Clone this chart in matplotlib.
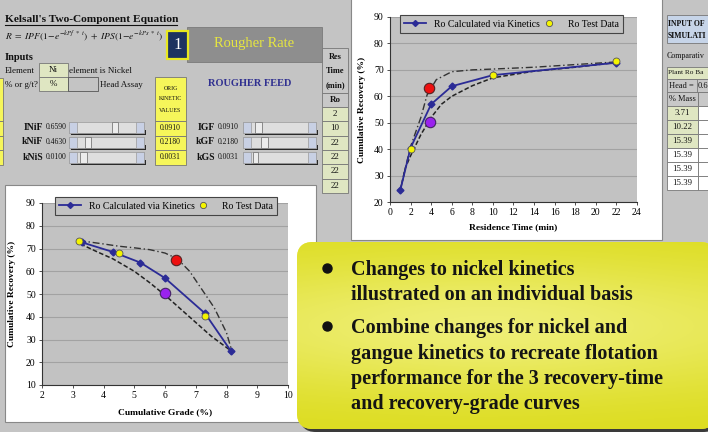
import numpy as np
import matplotlib
matplotlib.use("Agg")
import matplotlib.pyplot as plt
from matplotlib.patches import Rectangle, FancyBboxPatch
from matplotlib.lines import Line2D

plt.rcParams['mathtext.fontset'] = 'stix'
SERIF = ['Liberation Serif', 'DejaVu Serif']

# ---------------- data ----------------
# Recovery vs residence time
time_calc = [1, 2, 4, 6, 10, 22]
rec_calc = [24.5, 40.5, 57.0, 63.8, 68.0, 72.7]
time_test = [2, 10, 22]
rec_test = [40.0, 68.0, 73.2]
time_upper = [1, 1.5, 2, 3, 3.6, 4.5, 6, 8, 10, 14, 18, 22]
rec_upper = [24.5, 33, 41, 52, 60.5, 66.3, 69.3, 70.0, 70.3, 71.0, 72.0, 73.0]
time_lower = [1, 1.5, 2, 3, 4, 5, 6, 8, 10, 14, 18, 22]
rec_lower = [24.5, 33, 37.5, 45.5, 52, 57, 60, 64, 67, 69.5, 71, 72.8]
time_red, rec_red = [3.8], [63.0]
time_purple, rec_purple = [3.9], [50.3]

# Recovery vs grade
grade_calc = [3.3, 4.3, 5.2, 6.0, 7.3, 8.15]
grec_calc = [72.7, 68.5, 63.8, 57.0, 41.5, 24.8]
grade_test = [3.2, 4.5, 7.3]
grec_test = [73.3, 68.2, 40.3]
grade_upper = [3.2, 4.0, 4.5, 5.0, 5.5, 6.0, 6.4, 6.8, 7.2, 7.6, 8.0, 8.15]
grec_upper = [73.5, 72.0, 71.0, 70.3, 69.5, 68.0, 65.5, 60.0, 52.0, 44.0, 33.0, 26.0]
grade_lower = [3.25, 3.8, 4.3, 5.0, 5.5, 6.0, 6.5, 7.0, 7.5, 8.1]
grec_lower = [72.0, 68.5, 65.5, 60.0, 55.0, 49.5, 43.5, 37.5, 31.5, 25.5]
grade_red, grec_red = [6.35], [65.0]
grade_purple, grec_purple = [6.0], [50.5]

legend_labels = ["Ro Calculated via Kinetics", "Ro Test Data"]

# spreadsheet values
row_labels_left = ["INiF", "kNiF", "kNiS"]
row_values_left = ["0.6590", "0.4630", "0.0100"]
orig_values = ["0.0910", "0.2180", "0.0031"]
row_labels_right = ["IGF", "kGF", "kGS"]
row_values_right = ["0.0910", "0.2180", "0.0031"]
res_times = ["2", "10", "22", "22", "22", "22"]
mass_values = ["3.71", "10.22", "15.39", "15.39", "15.39", "15.39"]
bullets = [["Changes to nickel kinetics", "illustrated on an individual basis"],
           ["Combine changes for nickel and", "gangue kinetics to recreate flotation",
            "performance for the 3 recovery-time", "and recovery-grade curves"]]

# ---------------- figure ----------------
W, H = 708, 432
fig = plt.figure(figsize=(W / 100, H / 100), dpi=100)
fig.patch.set_facecolor('#c4c4c4')
bg = fig.add_axes([0, 0, 1, 1])
bg.set_xlim(0, W)
bg.set_ylim(H, 0)
bg.axis('off')
bg.set_zorder(0)

def rect(x0, y0, x1, y1, fc, ec='none', lw=0.6, z=1):
    bg.add_patch(Rectangle((x0, y0), x1 - x0, y1 - y0, facecolor=fc, edgecolor=ec, lw=lw, zorder=z))

def txt(x, y, s, size=6.5, ha='left', va='center', color='#111111', weight='normal', style='normal', z=3):
    bg.text(x, y, s, fontsize=size, ha=ha, va=va, color=color, fontweight=weight,
            fontstyle=style, family=SERIF, zorder=z)

# title and equation
txt(5, 19, "Kelsall's Two-Component Equation", size=8.2, weight='bold')
bg.plot([5, 177], [25, 25], color='#111111', lw=0.8, zorder=3)
txt(5, 36, r"$R\ =\ IPF(1\!-\!e^{-kPf\ *\ t})\ +\ IPS(1\!-\!e^{-kPs\ *\ t})$", size=6.8)

# "1" box and Rougher Rate header
rect(187, 27, 322, 62, '#8e8e8e', ec='#7a7a7a')
txt(254, 44, "Rougher Rate", size=10.5, ha='center', color='#e6e640')
rect(167, 31, 188, 59, '#1d3360', ec='#e8e820', lw=1.6, z=2)
txt(177.5, 45, "1", size=12, ha='center', color='white', z=4)

# Inputs
txt(5, 57, "Inputs", size=7.5, weight='bold')
txt(5, 71, "Element", size=6.5)
rect(39, 63, 68, 77, '#dfe6c2', ec='#777777')
txt(53.5, 70.5, "Ni", size=6.5, ha='center')
txt(69, 71, "element is Nickel", size=6.5)
txt(5, 85, "% or g/t?", size=6.5)
rect(39, 77, 68, 91, '#dfe6c2', ec='#777777')
txt(53.5, 84.5, "%", size=6.5, ha='center')
rect(68, 77, 98, 91, '#c4c4c4', ec='#555555')
txt(100, 85, "Head Assay", size=6.5)

# ORIG kinetic column
rect(155, 77, 186, 121, '#f6f65a', ec='#777777')
for i, s in enumerate(["ORIG", "KINETIC", "VALUES"]):
    txt(170.5, 88 + i * 11, s, size=4.2, ha='center')
for i, v in enumerate(orig_values):
    rect(155, 121 + i * 14.5, 186, 135.5 + i * 14.5, '#f6f65a', ec='#777777')
    txt(170.5, 128 + i * 14.5, v, size=5.5, ha='center')
txt(250, 84, "ROUGHER FEED", size=7.5, ha='center', weight='bold', color='#303090')

# left edge yellow cells
rect(-5, 78, 3, 121, '#f6f65a', ec='#777777')
for i in range(3):
    rect(-5, 121 + i * 14.5, 3, 135.5 + i * 14.5, '#f6f65a', ec='#777777')

def slider(x0, x1, yc, t0, t1):
    rect(x0 + 2, yc + 3, x1 + 2, yc + 8, '#2a2a2a', z=1)
    rect(x0, yc - 5.5, x1, yc + 5.5, '#dedede', ec='#9a9a9a', lw=0.5, z=2)
    rect(x0, yc - 5.5, x0 + 8, yc + 5.5, '#c8d0e4', ec='#9a9a9a', lw=0.5, z=2)
    rect(x1 - 8, yc - 5.5, x1, yc + 5.5, '#c8d0e4', ec='#9a9a9a', lw=0.5, z=2)
    rect(t0, yc - 5.5, t1, yc + 5.5, '#ececec', ec='#7a7a7a', lw=0.6, z=2)

ys = [127, 142, 157]
thumbs_left = [(112, 118), (85, 91), (80, 87)]
thumbs_right = [(255, 262), (261, 268), (253, 258)]
for i in range(3):
    txt(43, ys[i], row_labels_left[i], size=7, ha='right', weight='bold')
    txt(46, ys[i], row_values_left[i], size=5.5)
    slider(69, 144, ys[i], *thumbs_left[i])
    txt(215, ys[i], row_labels_right[i], size=7, ha='right', weight='bold')
    txt(218, ys[i], row_values_right[i], size=5.5)
    slider(243, 316, ys[i], *thumbs_right[i])

# Res time column
rect(322, 48, 348, 93, '#c8c8c8', ec='#777777')
for i, s in enumerate(["Res", "Time", "(min)"]):
    txt(335, 57 + i * 14, s, size=6, ha='center', weight='bold')
rect(322, 93, 348, 107, '#c8c8c8', ec='#777777')
txt(335, 100, "Ro", size=6.5, ha='center', weight='bold')
for i, v in enumerate(res_times):
    rect(322, 107 + i * 14.3, 348, 121.3 + i * 14.3, '#dfe6c2', ec='#777777')
    txt(335, 114 + i * 14.3, v, size=6.5, ha='center')

# right white chart panel
rect(351, -2, 662, 240, 'white', ec='#888888', lw=0.8)
# right table (cut off by the frame edge)
rect(667, 15, 712, 43, '#c6d4e8', ec='#777777')
txt(668, 24, "INPUT OF", size=5.6, weight='bold')
txt(668, 36, "SIMULATI", size=5.6, weight='bold')
txt(667, 56, "Comparativ", size=5.8)
rect(667, 67, 712, 79, '#dfe6c2', ec='#777777')
txt(668, 73, "Plant Ro Ba", size=5.2)
rect(667, 79, 712, 92, '#c8c8c8', ec='#777777')
txt(669, 85.5, "Head = ", size=6)
rect(697, 79, 712, 92, '#c8c8c8', ec='#777777')
txt(698, 85.5, "0.6", size=6)
rect(667, 92, 698, 106, '#c8c8c8', ec='#777777')
rect(698, 92, 712, 106, '#c8c8c8', ec='#777777')
txt(682.5, 99, "% Mass", size=6, ha='center')
for i, v in enumerate(mass_values):
    fc = '#dfe6c2' if i < 3 else 'white'
    rect(667, 106 + i * 14, 698, 120 + i * 14, fc, ec='#777777')
    rect(698, 106 + i * 14, 712, 120 + i * 14, 'white', ec='#777777')
    txt(682.5, 113 + i * 14, v, size=6.3, ha='center')

# lower-left white panel
rect(5, 185, 316, 422, 'white', ec='#888888', lw=0.8)

# ---------------- callout ----------------
cx0, cy0, cx1, cy1 = 297, 242, 716, 429
shadow = FancyBboxPatch((cx0 + 3, cy0 + 3), cx1 - cx0, cy1 - cy0,
                        boxstyle="round,pad=0,rounding_size=16", facecolor='#3a3a3a',
                        edgecolor='none', zorder=5)
bg.add_patch(shadow)
box = FancyBboxPatch((cx0, cy0), cx1 - cx0, cy1 - cy0,
                     boxstyle="round,pad=0,rounding_size=16", facecolor='#ecec40',
                     edgecolor='none', zorder=6)
bg.add_patch(box)
yy = np.linspace(0, 1, 120)[:, None]
xx = np.linspace(0, 1, 200)[None, :]
light = 0.75 * np.exp(-((yy - 0.45) / 0.38) ** 2) * (0.55 + 0.45 * np.exp(-((xx - 0.45) / 0.5) ** 2))
c_dark = np.array([0.86, 0.86, 0.10])
c_light = np.array([0.96, 0.96, 0.58])
img = c_dark[None, None, :] * (1 - light[..., None]) + c_light[None, None, :] * light[..., None]
im = bg.imshow(img, extent=(cx0, cx1, cy1, cy0), aspect='auto', zorder=7, interpolation='bilinear')
im.set_clip_path(box)
bg.set_xlim(0, W)
bg.set_ylim(H, 0)

baselines = [[275, 299.5], [333, 358.5, 384, 409]]
bullet_y = [268, 326]
for k, lines in enumerate(bullets):
    bg.plot([327], [bullet_y[k]], 'o', ms=6.5, color='#111111', zorder=9)
    for j, line in enumerate(lines):
        bg.text(351, baselines[k][j], line, fontsize=14.5, fontweight='bold', family=SERIF,
                color='#141414', ha='left', va='baseline', zorder=9)

# ---------------- charts ----------------
def px_axes(x0, y0, x1, y1):
    return fig.add_axes([x0 / W, 1 - y1 / H, (x1 - x0) / W, (y1 - y0) / H])

def style_axes(ax):
    ax.set_facecolor('#c2c2c2')
    ax.grid(axis='y', color='#a2a2a2', lw=0.8)
    ax.set_axisbelow(True)
    for s in ['top', 'right']:
        ax.spines[s].set_visible(False)
    for s in ['left', 'bottom']:
        ax.spines[s].set_color('#333333')
        ax.spines[s].set_linewidth(0.8)
    ax.tick_params(labelsize=7, length=2.5, width=0.6, color='#333333', pad=2)
    for lab in ax.get_xticklabels() + ax.get_yticklabels():
        lab.set_family(SERIF)

handles = [Line2D([], [], color='#2b2b96', lw=1.3, marker='D', ms=3, label=legend_labels[0]),
           Line2D([], [], color='none', marker='o', ms=4.5, markerfacecolor='#f4f400',
                  markeredgecolor='#555555', markeredgewidth=0.6, label=legend_labels[1])]

def draw(ax, x_up, y_up, x_lo, y_lo, x_c, y_c, x_t, y_t, x_r, y_r, x_p, y_p):
    ax.plot(x_up, y_up, color='#333333', lw=1.0, ls=(0, (5, 2, 1, 2)), zorder=2)
    ax.plot(x_lo, y_lo, color='#222222', lw=1.1, ls=(0, (3, 1.5)), zorder=2)
    ax.plot(x_c, y_c, color='#2b2b96', lw=1.3, marker='D', ms=3.5, zorder=3)
    ax.plot(x_t, y_t, 'o', ms=5, markerfacecolor='#f4f400', markeredgecolor='#555555',
            markeredgewidth=0.6, zorder=4)
    ax.plot(x_r, y_r, 'o', ms=7.5, markerfacecolor='#ee1010', markeredgecolor='#552222',
            markeredgewidth=0.8, zorder=5)
    ax.plot(x_p, y_p, 'o', ms=7.5, markerfacecolor='#9a22ee', markeredgecolor='#442266',
            markeredgewidth=0.8, zorder=5)

def legend(ax, x0, x1, top, bottom):
    leg = ax.legend(handles=handles, loc='lower left', ncol=2, mode='expand',
                    bbox_to_anchor=(x0, bottom, x1 - x0, top - bottom), frameon=True,
                    fancybox=False, prop={'family': SERIF, 'size': 7},
                    handlelength=2.2, borderaxespad=0, borderpad=0.45, columnspacing=1.0)
    leg.get_frame().set_facecolor('#c2c2c2')
    leg.get_frame().set_edgecolor('#444444')
    leg.get_frame().set_linewidth(0.8)
    leg.get_frame().set_alpha(1)

# Right chart (time)
ax1 = px_axes(390, 17, 637, 202)
draw(ax1, time_upper, rec_upper, time_lower, rec_lower, time_calc, rec_calc,
     time_test, rec_test, time_red, rec_red, time_purple, rec_purple)
ax1.set_xlim(0, 24)
ax1.set_ylim(20, 90)
ax1.set_xticks(range(0, 25, 2))
ax1.set_yticks(range(20, 91, 10))
style_axes(ax1)
ax1.set_xlabel("Residence Time (min)", fontsize=6.8, fontweight='bold', family=SERIF, labelpad=4)
ax1.set_ylabel("Cumulative Recovery (%)", fontsize=6.8, fontweight='bold', family=SERIF, labelpad=6)
legend(ax1, 10 / 247, 233 / 247, 192 / 185, 169 / 185)

# Left chart (grade)
ax2 = px_axes(42, 203, 288, 385)
draw(ax2, grade_upper, grec_upper, grade_lower, grec_lower, grade_calc, grec_calc,
     grade_test, grec_test, grade_red, grec_red, grade_purple, grec_purple)
ax2.set_xlim(2, 10)
ax2.set_ylim(10, 90)
ax2.set_xticks(range(2, 11))
ax2.set_yticks(range(10, 91, 10))
style_axes(ax2)
ax2.set_xlabel("Cumulative Grade (%)", fontsize=6.8, fontweight='bold', family=SERIF, labelpad=6)
ax2.set_ylabel("Cumulative Recovery (%)", fontsize=6.8, fontweight='bold', family=SERIF, labelpad=7)
legend(ax2, 13 / 246, 235 / 246, 190 / 182, 170 / 182)

ax2.set_zorder(2)
ax1.set_zorder(2)
fig.savefig("out.png", dpi=100, facecolor=fig.get_facecolor())
